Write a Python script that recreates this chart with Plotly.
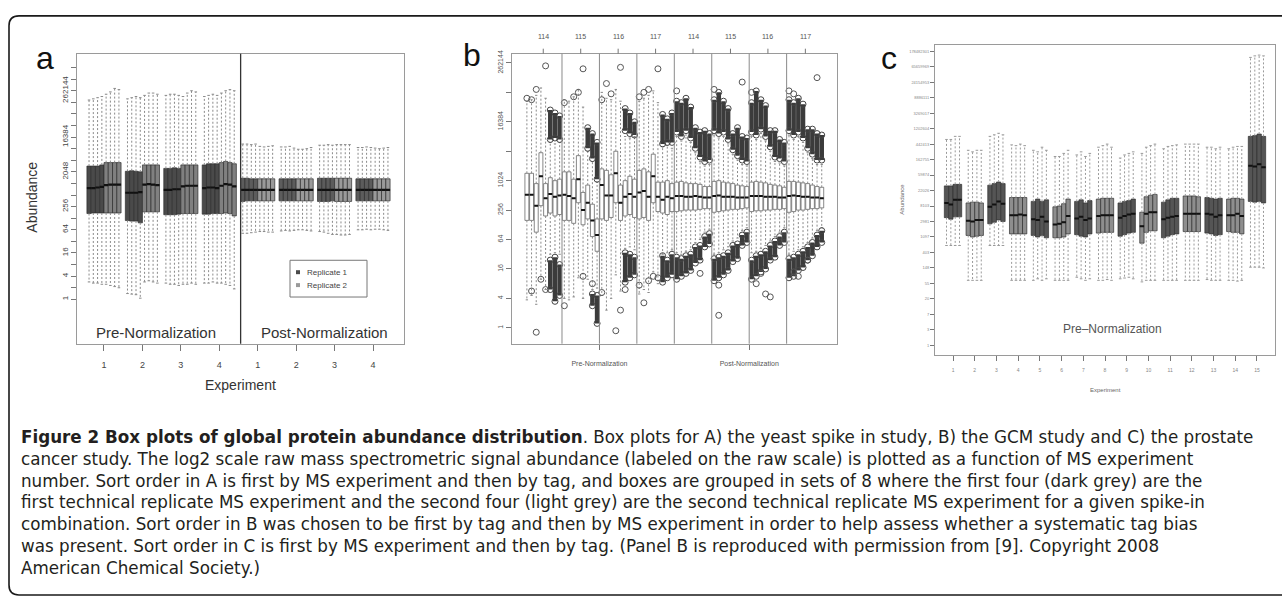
import plotly.graph_objects as go

W, H = 1282, 598

# ======================= Panel a (log2 abundance) =======================
a_x_labels = ["1", "2", "3", "4", "1", "2", "3", "4"]
a_ytick_exp = [0, 2, 4, 6, 8, 11, 14, 18]
a_ytick_text = ["1", "4", "16", "64", "256", "2048", "16384", "262144"]

a_q1 = [
    [7.40, 7.45, 7.45, 7.45, 7.45, 7.45, 7.45, 7.45],
    [6.80, 6.75, 6.75, 6.60, 7.55, 7.55, 7.55, 7.55],
    [7.30, 7.30, 7.30, 7.35, 7.40, 7.40, 7.40, 7.40],
    [7.35, 7.35, 7.40, 7.40, 7.40, 7.45, 7.40, 7.20],
    [8.45, 8.50, 8.50, 8.50, 8.50, 8.50, 8.50, 8.50],
    [8.50, 8.50, 8.50, 8.50, 8.50, 8.50, 8.50, 8.50],
    [8.45, 8.45, 8.45, 8.50, 8.45, 8.45, 8.45, 8.45],
    [8.50, 8.50, 8.50, 8.50, 8.50, 8.50, 8.50, 8.50],
]
a_med = [
    [9.60, 9.60, 9.65, 9.70, 9.85, 9.90, 9.90, 9.90],
    [9.20, 9.20, 9.20, 9.25, 9.90, 9.95, 9.90, 9.85],
    [9.45, 9.45, 9.50, 9.50, 9.75, 9.80, 9.80, 9.80],
    [9.60, 9.65, 9.65, 9.60, 9.80, 9.95, 9.90, 9.75],
    [9.45, 9.45, 9.45, 9.45, 9.45, 9.45, 9.45, 9.45],
    [9.45, 9.45, 9.45, 9.45, 9.45, 9.45, 9.45, 9.45],
    [9.45, 9.45, 9.45, 9.45, 9.45, 9.45, 9.45, 9.45],
    [9.45, 9.45, 9.45, 9.45, 9.45, 9.45, 9.45, 9.45],
]
a_q3 = [
    [11.50, 11.50, 11.50, 11.60, 11.80, 11.80, 11.80, 11.80],
    [11.05, 11.10, 11.05, 11.00, 11.60, 11.60, 11.60, 11.60],
    [11.30, 11.30, 11.35, 11.30, 11.60, 11.60, 11.60, 11.60],
    [11.60, 11.70, 11.70, 11.70, 11.80, 11.90, 11.80, 11.70],
    [10.45, 10.45, 10.40, 10.40, 10.40, 10.40, 10.40, 10.40],
    [10.40, 10.40, 10.40, 10.40, 10.40, 10.40, 10.40, 10.40],
    [10.45, 10.45, 10.45, 10.45, 10.45, 10.45, 10.45, 10.45],
    [10.40, 10.40, 10.40, 10.40, 10.40, 10.40, 10.40, 10.40],
]
a_hi = [
    [17.2, 17.3, 17.4, 17.5, 17.7, 17.9, 18.2, 18.1],
    [17.3, 17.4, 17.5, 17.4, 17.6, 17.8, 17.8, 17.7],
    [17.6, 17.7, 17.7, 17.6, 17.5, 17.8, 18.0, 17.9],
    [17.5, 17.6, 17.7, 17.6, 17.8, 18.0, 18.1, 18.0],
    [13.40, 13.40, 13.35, 13.40, 13.20, 13.15, 13.20, 13.25],
    [13.15, 13.15, 13.20, 13.05, 12.95, 12.95, 13.00, 13.10],
    [13.30, 13.30, 13.35, 13.30, 13.35, 13.35, 13.35, 13.35],
    [13.10, 13.10, 13.15, 13.10, 13.05, 13.00, 13.05, 13.10],
]
a_lo = [
    [1.5, 1.4, 1.4, 1.3, 1.3, 1.2, 1.1, 1.0],
    [0.5, 0.45, 0.4, 0.1, 1.5, 1.6, 1.5, 1.4],
    [1.4, 1.3, 1.3, 1.2, 1.3, 1.3, 1.4, 1.3],
    [1.4, 1.4, 1.5, 1.4, 1.4, 1.3, 1.2, 0.9],
    [5.70, 5.70, 5.75, 5.80, 5.85, 5.85, 5.80, 5.80],
    [5.90, 5.95, 5.90, 5.95, 6.00, 6.00, 5.95, 5.90],
    [5.85, 5.80, 5.70, 5.60, 5.60, 5.55, 5.55, 5.60],
    [6.00, 6.00, 6.05, 6.00, 6.05, 6.05, 6.00, 5.95],
]
a_rep_labels = ["Replicate 1", "Replicate 2"]

# ======================= Panel b (log2 abundance) =======================
b_top_labels = ["114", "115", "116", "117", "114", "115", "116", "117"]
b_bottom_labels = ["Pre-Normalization", "Post-Normalization"]
b_ytick_exp = [0, 2, 4, 6, 8, 10, 12, 14, 16, 18]
b_ytick_text = ["1", "4", "16", "64", "256", "1024", "", "16384", "", "262144"]

b_q1 = [7.3, 7.3, 6.5, 8.3, 7.6, 7.8, 7.6, 7.7,
        7.3, 7.3, 7.1, 8.5, 7.0, 7.4, 6.2, 5.2,
        7.4, 7.3, 7.5, 8.5, 7.3, 7.6, 7.7, 7.5,
        7.4, 7.5, 7.3, 8.5, 7.9, 7.8, 7.7, 7.9,
        7.90, 7.95, 8.00, 8.00, 8.00, 8.05, 8.10, 8.10,
        7.85, 7.90, 7.95, 8.00, 8.05, 8.05, 8.10, 8.15,
        7.90, 7.95, 7.95, 8.00, 8.00, 8.05, 8.05, 8.10,
        7.85, 7.90, 8.00, 8.00, 8.05, 8.10, 8.10, 8.15]
b_med = [9.05, 9.05, 8.3, 10.3, 8.8, 9.1, 8.9, 9.0,
         9.05, 8.95, 8.8, 10.1, 8.0, 8.5, 7.3, 6.3,
         9.7, 9.0, 9.0, 10.5, 8.5, 8.9, 9.1, 8.9,
         9.2, 9.3, 8.9, 10.3, 8.9, 8.7, 8.9, 8.8,
         8.95, 8.95, 8.90, 8.90, 8.95, 8.90, 8.85, 8.85,
         8.95, 9.00, 8.90, 8.90, 8.90, 8.85, 8.85, 8.85,
         8.95, 8.95, 8.95, 8.90, 8.90, 8.90, 8.85, 8.85,
         8.95, 9.00, 8.95, 8.90, 8.90, 8.85, 8.85, 8.80]
b_q3 = [10.5, 10.5, 9.8, 11.9, 9.8, 10.2, 10.0, 10.1,
        10.6, 10.6, 10.1, 11.7, 9.2, 9.7, 8.4, 7.4,
        10.8, 10.7, 10.4, 12.0, 9.7, 10.0, 10.3, 10.1,
        10.7, 10.8, 10.6, 11.8, 9.9, 9.9, 10.0, 9.8,
        9.90, 9.95, 9.85, 9.80, 9.80, 9.75, 9.60, 9.60,
        9.95, 10.00, 9.90, 9.85, 9.80, 9.70, 9.65, 9.60,
        9.90, 9.95, 9.90, 9.85, 9.75, 9.70, 9.65, 9.55,
        9.95, 9.95, 9.90, 9.85, 9.80, 9.70, 9.60, 9.55]
b_hi = [15.4, 15.5, 15.8, 16.3, 15.6, 12.6, 12.5, 12.6,
        15.5, 15.4, 15.7, 16.2, 15.0, 12.0, 11.3, 9.9,
        16.0, 15.6, 15.5, 16.2, 15.4, 13.0, 12.9, 13.0,
        15.4, 15.6, 15.8, 16.1, 15.3, 12.3, 12.4, 12.2,
        13.0, 12.7, 13.1, 12.6, 11.9, 11.3, 11.0, 11.1,
        13.1, 12.9, 13.0, 12.5, 11.8, 11.4, 11.1, 11.0,
        13.0, 12.8, 13.2, 12.7, 12.0, 11.3, 11.2, 11.0,
        13.1, 12.8, 13.0, 12.6, 11.9, 11.5, 11.1, 11.1]
b_lo = [1.9, 2.2, 1.6, 3.3, 2.6, 5.0, 5.1, 5.0,
        2.0, 1.9, 2.1, 3.4, 2.0, 3.3, 2.6, 2.7,
        2.2, 1.2, 2.0, 3.6, 2.5, 5.4, 5.5, 5.3,
        2.3, 2.6, 2.4, 3.8, 3.0, 5.0, 5.1, 5.3,
        5.1, 5.0, 5.2, 5.3, 5.8, 6.0, 6.5, 6.7,
        5.0, 5.1, 5.3, 5.5, 5.9, 6.1, 6.6, 6.8,
        5.1, 5.2, 5.4, 5.6, 5.9, 6.2, 6.5, 6.8,
        5.0, 5.2, 5.3, 5.5, 5.8, 6.1, 6.6, 6.8]
# dense outlier clusters above / below each box: (low end, high end) or None
b_clu_hi = [None, None, None, None, None, (12.8, 14.8), (12.9, 14.6), (12.8, 14.4),
            None, None, None, None, None, (12.2, 13.6), (11.5, 13.2), (10.1, 12.6),
            None, None, None, None, None, (13.4, 14.9), (13.2, 14.6), (13.1, 14.0),
            None, None, None, None, None, (12.5, 14.5), (12.6, 14.2), (12.6, 14.6),
            (13.3, 15.4), (13.0, 15.3), (13.4, 15.6), (12.9, 15.0), (12.2, 13.6), (11.6, 13.3), (11.3, 13.4), (11.4, 13.2),
            (13.4, 15.5), (13.2, 16.0), (13.3, 15.4), (12.8, 14.9), (12.1, 13.2), (11.7, 13.6), (11.4, 13.0), (11.3, 12.9),
            (13.3, 15.3), (13.1, 16.1), (13.5, 15.5), (13.0, 15.1), (12.3, 13.4), (11.6, 13.4), (11.5, 12.8), (11.3, 12.6),
            (13.4, 15.5), (13.1, 15.3), (13.3, 15.6), (12.9, 15.2), (12.2, 13.5), (11.8, 13.5), (11.4, 13.2), (11.4, 13.1)]
b_clu_lo = [None, None, None, None, None, (2.6, 4.6), (1.8, 4.8), (2.2, 4.3),
            None, None, None, None, None, None, (1.5, 2.3), (0.3, 2.2),
            None, None, None, None, None, (3.1, 5.1), (3.4, 5.0), (3.6, 4.8),
            None, None, None, None, None, (3.1, 4.9), (3.4, 4.6), (3.6, 5.0),
            (3.3, 4.8), (3.5, 4.7), (3.7, 4.9), (3.9, 5.0), (4.4, 5.5), (4.6, 5.6), (5.5, 6.2), (5.7, 6.4),
            (3.2, 4.7), (3.4, 4.8), (3.6, 4.9), (3.9, 5.1), (4.5, 5.6), (4.7, 5.7), (5.6, 6.3), (5.8, 6.5),
            (3.3, 4.6), (3.5, 4.9), (3.8, 5.0), (4.0, 5.2), (4.6, 5.6), (4.8, 5.9), (5.6, 6.2), (5.8, 6.5),
            (3.4, 4.7), (3.5, 4.8), (3.9, 5.0), (4.1, 5.2), (4.6, 5.5), (4.9, 5.8), (5.5, 6.3), (5.8, 6.6)]
# sparse individual outliers: box index (1-based) and log2 value
b_out_box = [1, 2, 3, 5, 9, 11, 12, 13, 17, 18, 19, 21, 25, 26, 27, 29, 33, 41, 47, 49, 57, 58, 63,
             2, 3, 4, 5, 9, 13, 15, 17, 20, 21, 22, 25, 26, 27, 28, 29, 38, 42, 42, 50, 51, 52, 53, 58, 59, 61]
b_out_val = [15.6, 15.5, 16.2, 17.8, 15.3, 15.7, 16.0, 17.6, 15.5, 16.6, 15.9, 17.7, 15.7, 16.0, 16.2, 17.6, 16.1, 16.2, 16.7, 16.0, 16.1, 15.9, 17.0,
             2.5, -0.3, 3.3, 2.6, 1.5, 3.5, 3.0, 2.4, -0.2, 1.2, 2.6, 2.9, 1.7, 3.2, 3.5, 3.4, 3.7, 0.85, 2.9, 3.0, 3.7, 2.3, 2.1, 3.8, 3.5, 4.6]

# ======================= Panel c (natural-log abundance) =======================
c_x_labels = ["1", "2", "3", "4", "5", "6", "7", "8", "9", "10", "11", "12", "13", "14", "15"]
c_ytick_text = ["1", "3", "7", "20", "55", "148", "403", "1097", "2981", "8103", "22026", "59874",
                "162755", "442413", "1202604", "3269017", "8886111", "24154953", "65659969", "178482301"]
c_q1 = [
    [8.25, 8.15, 8.30, 8.30], [7.10, 7.00, 7.05, 7.10], [7.85, 7.95, 8.10, 8.00],
    [7.20, 7.20, 7.20, 7.20], [7.10, 7.00, 7.10, 6.95], [6.95, 6.95, 7.00, 7.20],
    [7.15, 7.05, 7.00, 7.20], [7.25, 7.30, 7.30, 7.30], [7.05, 7.15, 7.25, 7.30],
    [6.60, 7.30, 7.40, 7.40], [6.95, 7.05, 7.15, 7.20], [7.35, 7.35, 7.35, 7.35],
    [7.25, 7.20, 7.10, 7.15], [7.35, 7.30, 7.30, 7.20], [9.30, 9.25, 9.30, 9.20],
]
c_med = [
    [9.20, 9.10, 9.40, 9.40], [8.05, 8.00, 8.10, 8.10], [8.95, 9.10, 9.30, 9.15],
    [8.40, 8.40, 8.45, 8.40], [8.15, 8.10, 8.30, 8.00], [7.80, 7.85, 7.95, 8.35],
    [8.20, 8.30, 8.10, 8.20], [8.35, 8.40, 8.40, 8.40], [8.25, 8.35, 8.45, 8.50],
    [7.70, 8.50, 8.60, 8.60], [8.15, 8.25, 8.30, 8.35], [8.50, 8.50, 8.50, 8.50],
    [8.50, 8.45, 8.30, 8.40], [8.40, 8.40, 8.50, 8.35], [11.60, 11.55, 11.70, 11.50],
]
c_q3 = [
    [10.30, 10.30, 10.40, 10.40], [9.20, 9.25, 9.25, 9.20], [10.35, 10.45, 10.55, 10.45],
    [9.55, 9.55, 9.55, 9.55], [9.30, 9.45, 9.30, 9.40], [8.95, 9.00, 9.15, 9.45],
    [9.30, 9.40, 9.20, 9.35], [9.45, 9.50, 9.50, 9.50], [9.20, 9.30, 9.35, 9.45],
    [8.60, 9.60, 9.70, 9.75], [9.25, 9.40, 9.50, 9.50], [9.65, 9.65, 9.65, 9.60],
    [9.55, 9.50, 9.45, 9.50], [9.45, 9.50, 9.50, 9.45], [13.50, 13.55, 13.65, 13.50],
]
c_hi = [
    [13.30, 13.30, 13.50, 13.50], [12.60, 12.50, 12.60, 12.60], [13.50, 13.60, 13.70, 13.60],
    [12.95, 12.90, 13.00, 12.90], [12.60, 12.50, 12.80, 12.60], [12.20, 12.20, 12.40, 12.60],
    [12.30, 12.50, 12.20, 12.40], [12.80, 12.90, 13.00, 12.80], [12.10, 12.30, 12.40, 12.50],
    [12.40, 12.80, 12.90, 13.00], [12.70, 12.85, 12.90, 12.95], [13.00, 13.00, 13.00, 13.00],
    [12.80, 12.80, 12.70, 12.80], [12.70, 12.80, 12.85, 12.85], [18.60, 18.70, 18.75, 18.70],
]
c_lo = [
    [6.45, 6.45, 6.45, 6.45], [4.20, 4.20, 4.20, 4.20], [6.45, 6.45, 6.45, 6.45],
    [4.20, 4.20, 4.20, 4.20], [4.20, 4.30, 4.20, 4.30], [4.20, 4.20, 4.20, 4.20],
    [4.40, 4.30, 4.20, 4.30], [4.20, 4.20, 4.25, 4.20], [4.30, 4.35, 4.40, 4.30],
    [4.10, 4.20, 4.20, 4.20], [4.20, 4.20, 4.20, 4.20], [4.20, 4.20, 4.20, 4.20],
    [4.25, 4.20, 4.20, 4.20], [4.20, 4.20, 4.15, 4.20], [5.05, 5.05, 5.05, 5.00],
]

caption_lines = [
    "<b>Figure 2 Box plots of global protein abundance distribution</b>. Box plots for A) the yeast spike in study, B) the GCM study and C) the prostate",
    "cancer study. The log2 scale raw mass spectrometric signal abundance (labeled on the raw scale) is plotted as a function of MS experiment",
    "number. Sort order in A is first by MS experiment and then by tag, and boxes are grouped in sets of 8 where the first four (dark grey) are the",
    "first technical replicate MS experiment and the second four (light grey) are the second technical replicate MS experiment for a given spike-in",
    "combination. Sort order in B was chosen to be first by tag and then by MS experiment in order to help assess whether a systematic tag bias",
    "was present. Sort order in C is first by MS experiment and then by tag. (Panel B is reproduced with permission from [9]. Copyright 2008",
    "American Chemical Society.)",
]

# ======================= helpers =======================
def fx(px):
    return px / W


def fy(py):
    return 1 - py / H


def flat(rows):
    return [v for r in rows for v in r]


fig = go.Figure()


def add_panel(xs, q1, med, q3, lo, hi, fills, xa, ya, hw, box_line, wh_color, med_w, cap=0.3):
    for col in sorted(set(fills)):
        idx = [i for i, c in enumerate(fills) if c == col]
        fig.add_trace(go.Box(
            x=[xs[i] for i in idx], q1=[q1[i] for i in idx], median=[med[i] for i in idx],
            q3=[q3[i] for i in idx], lowerfence=[q1[i] for i in idx], upperfence=[q3[i] for i in idx],
            width=2 * hw, fillcolor=col, line=dict(color=box_line, width=0.7), whiskerwidth=0,
            xaxis=xa, yaxis=ya, hoverinfo="skip", showlegend=False))
    wx, wy = [], []
    for i, p in enumerate(xs):
        wx += [p, p, None, p, p, None]
        wy += [q3[i], hi[i], None, q1[i], lo[i], None]
    fig.add_trace(go.Scatter(x=wx, y=wy, mode="lines", xaxis=xa, yaxis=ya, hoverinfo="skip",
                             line=dict(color=wh_color, width=1, dash="2px,2px"), showlegend=False))
    cx, cy = [], []
    for i, p in enumerate(xs):
        cx += [p - cap, p + cap, None, p - cap, p + cap, None]
        cy += [hi[i], hi[i], None, lo[i], lo[i], None]
    fig.add_trace(go.Scatter(x=cx, y=cy, mode="lines", xaxis=xa, yaxis=ya, hoverinfo="skip",
                             line=dict(color=wh_color, width=1), showlegend=False))
    mx, my = [], []
    for i, p in enumerate(xs):
        mx += [p - hw, p + hw, None]
        my += [med[i], med[i], None]
    fig.add_trace(go.Scatter(x=mx, y=my, mode="lines", xaxis=xa, yaxis=ya, hoverinfo="skip",
                             line=dict(color="#111111", width=med_w), showlegend=False))


# ---------- panel a ----------
a_pos = [g * 9 + j + 1 for g in range(8) for j in range(8)]
a_fill = []
for g in range(8):
    for j in range(8):
        if g < 4:
            a_fill.append("#4a4a4a" if j < 4 else "#808080")
        else:
            a_fill.append("#5c5c5c" if j < 4 else "#9a9a9a")
add_panel(a_pos, flat(a_q1), flat(a_med), flat(a_q3), flat(a_lo), flat(a_hi), a_fill,
          "x", "y", 0.5, "#2e2e2e", "#8a8a8a", 2.2)

# ---------- panel b ----------
b_pos = list(range(1, 65))
add_panel(b_pos, b_q1, b_med, b_q3, b_lo, b_hi, ["#ffffff"] * 64,
          "x2", "y2", 0.42, "#555555", "#8a8a8a", 2.0, cap=0.25)
for clusters in (b_clu_hi, b_clu_lo):
    lx, ly, ex, ey = [], [], [], []
    for i, c in enumerate(clusters):
        if c is None:
            continue
        lx += [b_pos[i], b_pos[i], None]
        ly += [c[0], c[1], None]
        ex += [b_pos[i], b_pos[i]]
        ey += [c[0], c[1]]
    fig.add_trace(go.Scatter(x=lx, y=ly, mode="lines", xaxis="x2", yaxis="y2", hoverinfo="skip",
                             line=dict(color="rgba(25,25,25,0.85)", width=4.5), showlegend=False))
    fig.add_trace(go.Scatter(x=ex, y=ey, mode="markers", xaxis="x2", yaxis="y2", hoverinfo="skip",
                             marker=dict(symbol="circle-open", size=6, color="#444444", line=dict(width=1)),
                             showlegend=False))
fig.add_trace(go.Scatter(x=b_out_box, y=b_out_val, mode="markers", xaxis="x2", yaxis="y2", hoverinfo="skip",
                         marker=dict(symbol="circle-open", size=6, color="#555555", line=dict(width=1)),
                         showlegend=False))

# ---------- panel c ----------
c_pos = [g * 5 + j + 1 for g in range(15) for j in range(4)]
c_fill = []
for g in range(15):
    for j in range(4):
        c_fill.append("#555555" if g % 2 == 0 else "#8e8e8e")
add_panel(c_pos, flat(c_q1), flat(c_med), flat(c_q3), flat(c_lo), flat(c_hi), c_fill,
          "x3", "y3", 0.5, "#303030", "#9a9a9a", 2.0, cap=0.3)

# ======================= axes =======================
frame = dict(showline=True, mirror=True, linecolor="#9a9a9a", linewidth=1, showgrid=False,
             zeroline=False, ticks="outside", tickcolor="#777777", fixedrange=True)
AF = "Liberation Sans, Arial, sans-serif"

a_yvals = list(range(0, 21))
a_ytext = [a_ytick_text[a_ytick_exp.index(v)] if v in a_ytick_exp else "" for v in a_yvals]
c_yvals = list(range(0, 20))

fig.update_layout(
    width=W, height=H, margin=dict(l=0, r=0, t=0, b=0),
    paper_bgcolor="white", plot_bgcolor="white", boxmode="overlay", showlegend=False,
    xaxis=dict(frame, domain=[fx(77), fx(404)], range=[-1.82, 74.76], anchor="y",
               tickvals=[g * 9 + 4.5 for g in range(8)], ticktext=a_x_labels, ticklen=6,
               tickfont=dict(family=AF, size=9, color="#444444"), ticklabelstandoff=6),
    yaxis=dict(frame, domain=[fy(342), fy(50)], range=[-3.83, 21.2], anchor="x",
               tickvals=a_yvals, ticktext=a_ytext, ticklen=5, tickangle=-90,
               tickfont=dict(family=AF, size=8, color="#444444")),
    xaxis2=dict(frame, domain=[fx(512), fx(837)], range=[-2.18, 67.26], anchor="y2",
                tickvals=[16.5, 48.5], ticktext=b_bottom_labels, ticklen=5,
                tickfont=dict(family=AF, size=7, color="#555555"), ticklabelstandoff=8),
    yaxis2=dict(frame, domain=[fy(342), fy(50)], range=[-1.08, 18.63], anchor="x2",
                tickvals=b_ytick_exp, ticktext=b_ytick_text, ticklen=5, tickangle=-90,
                tickfont=dict(family=AF, size=7, color="#555555")),
    xaxis3=dict(frame, domain=[fx(935), fx(1275)], range=[-1.65, 76.65], anchor="y3",
                tickvals=[g * 5 + 2.5 for g in range(15)], ticktext=c_x_labels, ticklen=5,
                tickfont=dict(family=AF, size=5, color="#888888"), ticklabelstandoff=5),
    yaxis3=dict(frame, domain=[fy(353), fy(41)], range=[-0.6, 19.42], anchor="x3",
                tickvals=c_yvals, ticktext=c_ytick_text, ticklen=4,
                tickfont=dict(family=AF, size=4, color="#888888")),
)

shapes = []
r_x, r_y = 10 / W, 10 / H
x0, yt, yb = fx(9), fy(12), fy(595)
shapes.append(dict(type="path", xref="paper", yref="paper",
                   path=f"M 1.01,{yt} L {x0 + r_x},{yt} Q {x0},{yt} {x0},{yt - r_y} "
                        f"L {x0},{yb + r_y} Q {x0},{yb} {x0 + r_x},{yb} L 1.01,{yb}",
                   line=dict(color="#1a1a1a", width=1.6)))
shapes.append(dict(type="line", xref="x", yref="y domain", x0=36.5, x1=36.5, y0=0, y1=1,
                   line=dict(color="#333333", width=1.3)))
shapes.append(dict(type="rect", xref="paper", yref="paper", x0=fx(290), x1=fx(367), y0=fy(295), y1=fy(258),
                   line=dict(color="#777777", width=1), fillcolor="white"))
shapes.append(dict(type="rect", xref="paper", yref="paper", x0=fx(296), x1=fx(300), y0=fy(272), y1=fy(268),
                   line=dict(width=0), fillcolor="#4a4a4a"))
shapes.append(dict(type="rect", xref="paper", yref="paper", x0=fx(296), x1=fx(300), y0=fy(285), y1=fy(281),
                   line=dict(width=0), fillcolor="#9a9a9a"))
for k in range(1, 8):
    shapes.append(dict(type="line", xref="x2", yref="y2 domain", x0=k * 8 + 0.5, x1=k * 8 + 0.5, y0=0, y1=1,
                       line=dict(color="#8a8a8a", width=1)))
for k in range(8):
    shapes.append(dict(type="line", xref="x2", yref="paper", x0=k * 8 + 4.5, x1=k * 8 + 4.5,
                       y0=fy(50), y1=fy(45), line=dict(color="#777777", width=1)))
fig.update_layout(shapes=shapes)

ann = []
ann.append(dict(text="a", x=fx(45), y=fy(54), font=dict(family=AF, size=32, color="#111111")))
ann.append(dict(text="b", x=fx(472), y=fy(51), font=dict(family=AF, size=32, color="#111111")))
ann.append(dict(text="c", x=fx(889), y=fy(54), font=dict(family=AF, size=32, color="#111111")))
ann.append(dict(text="Abundance", x=fx(32), y=fy(195), textangle=-90, font=dict(family=AF, size=14, color="#333333")))
ann.append(dict(text="Experiment", x=fx(240), y=fy(384), font=dict(family=AF, size=14, color="#333333")))
ann.append(dict(text="Pre-Normalization", x=fx(156), y=fy(331), font=dict(family=AF, size=15, color="#333333")))
ann.append(dict(text="Post-Normalization", x=fx(325), y=fy(331), font=dict(family=AF, size=15, color="#333333")))
for t, yy in zip(a_rep_labels, (270, 283)):
    ann.append(dict(text=t, x=fx(305), y=fy(yy), xanchor="left", font=dict(family=AF, size=8, color="#444444")))
for k, t in enumerate(b_top_labels):
    ann.append(dict(text=t, x=k * 8 + 4.5, xref="x2", y=fy(33), yref="paper",
                    font=dict(family=AF, size=7, color="#555555")))
ann.append(dict(text="Abundance", x=fx(902), y=fy(197), textangle=-90, font=dict(family=AF, size=6, color="#666666")))
ann.append(dict(text="Experiment", x=fx(1105), y=fy(389), font=dict(family=AF, size=6, color="#666666")))
ann.append(dict(text="Pre\u2013Normalization", x=fx(1112), y=fy(327), font=dict(family=AF, size=12, color="#555555")))
# caption: one multi-line text block (line pitch = 1.3 x font size)
cap_size = 16.75
cap_first = 437
cap_center = cap_first + 1.3 * cap_size * (len(caption_lines) - 1) / 2
ann.append(dict(text="<br>".join(caption_lines), x=fx(19), y=fy(cap_center), xanchor="left", align="left",
                font=dict(family="DejaVu Sans, sans-serif", size=cap_size, color="#231f20")))
for a in ann:
    a.setdefault("xref", "paper")
    a.setdefault("yref", "paper")
    a.setdefault("showarrow", False)
    a.setdefault("xanchor", "center")
    a.setdefault("yanchor", "middle")
fig.update_layout(annotations=ann)

fig.write_html("out.html")
